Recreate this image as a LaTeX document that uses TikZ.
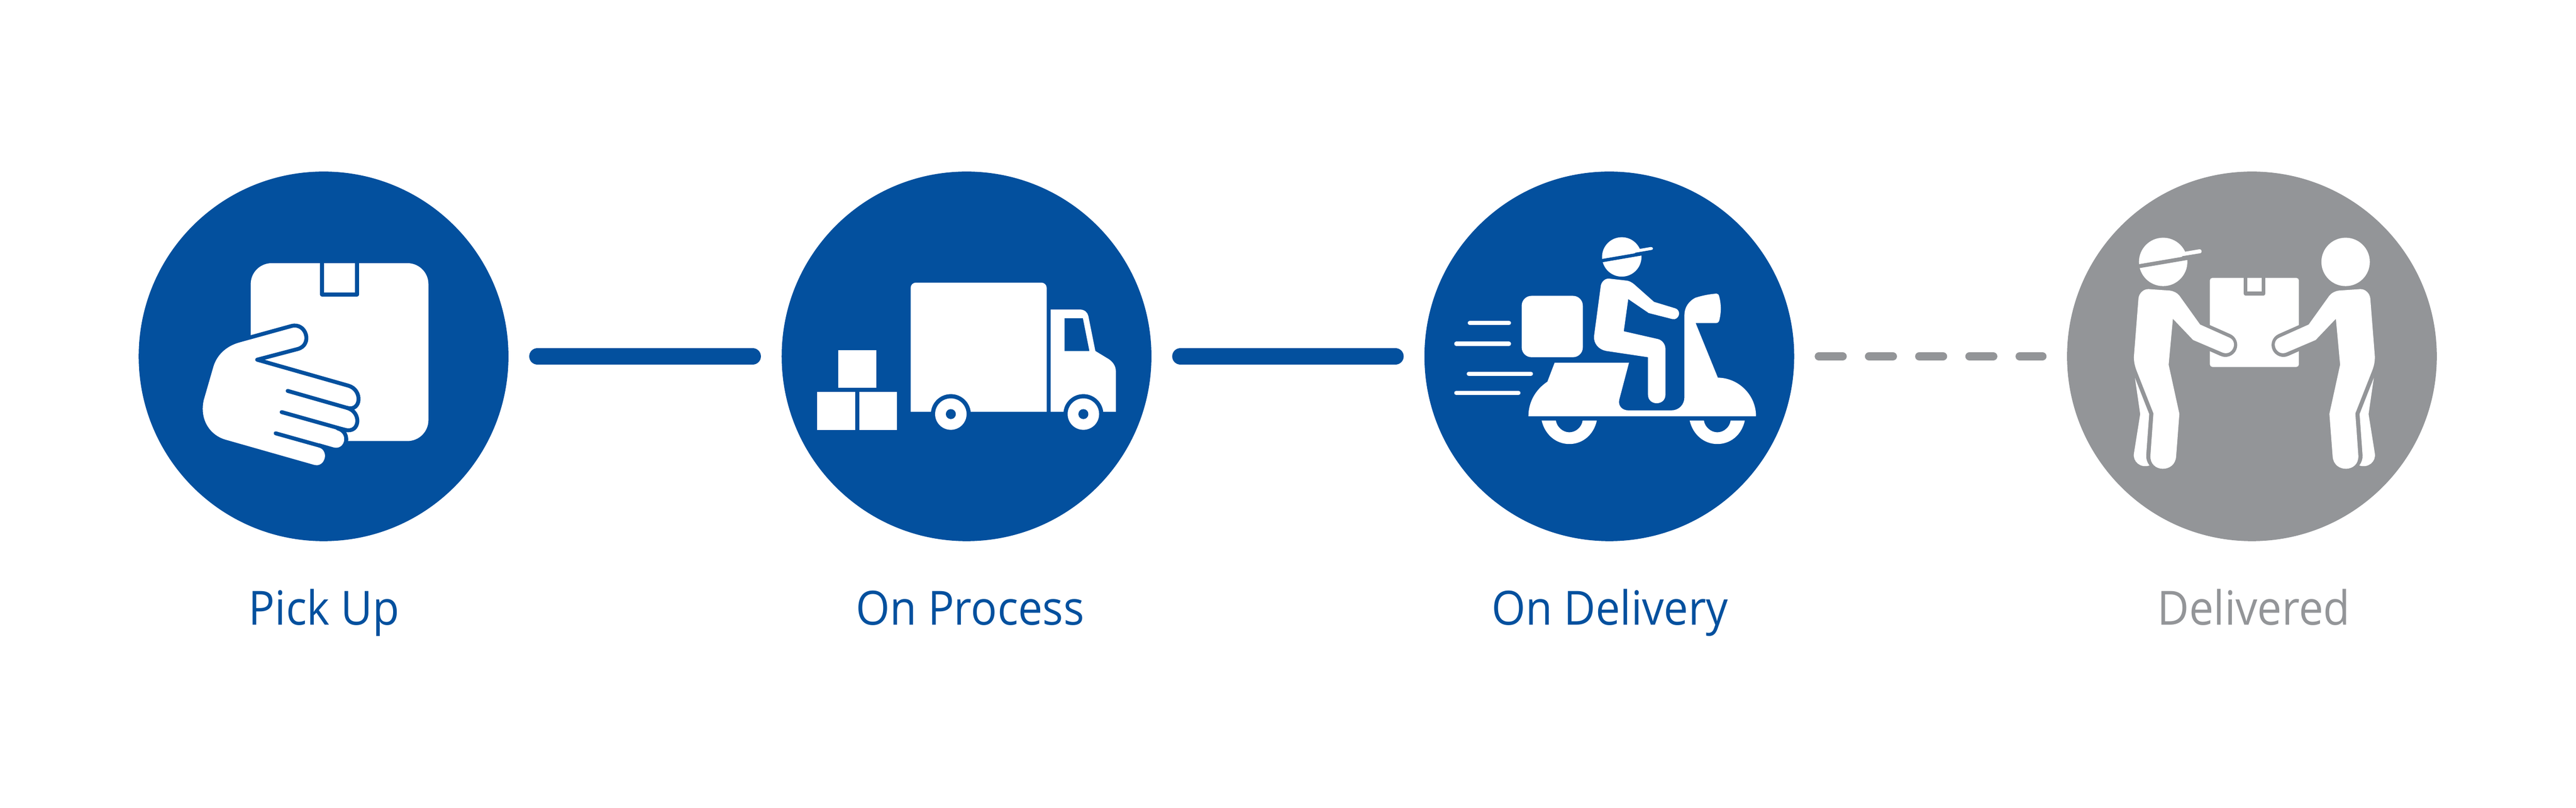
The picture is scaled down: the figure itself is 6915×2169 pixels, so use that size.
\documentclass[tikz,border=0pt]{standalone}
\usepackage{fontspec}
\setmainfont[FakeStretch=0.925]{Open Sans}
\definecolor{stepblue}{RGB}{3, 80, 158}
\definecolor{stepgrey}{RGB}{147, 149, 152}
\tikzset{
	stepdisc/.style={circle, inner sep=0pt, outer sep=0pt, minimum size=9.92cm},
	steplabel/.style={anchor=base, inner sep=0pt, font=\fontsize{36}{40}\selectfont},
	solidlink/.style={draw=stepblue, line width=0.446cm, line cap=round, shorten <=0.78cm, shorten >=0.78cm},
	dashlink/.style={draw=stepgrey, line width=0.22cm, line cap=round, dash pattern=on 0.64cm off 0.707cm, shorten <=0.66cm, shorten >=0.66cm},
	iconline/.style={line width=3pt, line join=round, line cap=round}
}
% one carrier of the last icon, the box side is to the right
\newcommand{\carrierbody}{
	\draw[stepgrey, line width=18.2pt, line cap=round] (547,690) -- (662,741);
	\fill[white] (355,517) -- (440,523) .. controls (456,525) and (470,533) .. (478,543) -- (561,659) -- (677,711) .. controls (717,728) and (690,788) .. (650,771) -- (533,721) -- (452,636) -- (435,820) -- (478,1017) -- (465,1187) .. controls (461,1256) and (358,1253) .. (362,1184) -- (374,1015) -- (307,845) .. controls (299,825) and (295,805) .. (296,785) -- (314,555) .. controls (316,533) and (335,516) .. (355,517) -- cycle;
	\fill[white] (300,873) -- (357,1018) -- (345,1183) .. controls (344,1198) and (349,1212) .. (358,1224) .. controls (322,1236) and (290,1208) .. (296,1175) -- (321,1018) -- cycle;
}
\begin{document}
\begin{tikzpicture}[x=0.01cm, y=-0.01cm]
	\useasboundingbox (0,0) rectangle (6915,2169);

	% discs
	\node[stepdisc, fill=stepblue] (pickup) at (868.6,957) {};
	\node[stepdisc, fill=stepblue] (process) at (2594.6,957) {};
	\node[stepdisc, fill=stepblue] (delivery) at (4320,957) {};
	\node[stepdisc, fill=stepgrey] (delivered) at (6045,957) {};

	% links
	\draw[solidlink] (pickup) -- (process);
	\draw[solidlink] (process) -- (delivery);
	\draw[dashlink] (delivery) -- (delivered);

	% labels
	\node[steplabel, text=stepblue] (pickuplabel) at (870,1678) {Pick Up};
	\node[steplabel, text=stepblue] (processlabel) at (2604,1678) {On Process};
	\node[steplabel, text=stepblue] (deliverylabel) at (4322,1678) {On Delivery};
	\node[steplabel, text=stepgrey] (deliveredlabel) at (6050,1678) {Delivered};

	% pick up: hand on a parcel
	\begin{scope}[shift={(340,430)}, scale=0.67]
		\fill[white, rounded corners=16pt] (497,413) rectangle (1209,1126);
		\draw[iconline, stepblue] (783,413) -- (783,539) -- (923,539) -- (923,413);
		\filldraw[iconline, draw=stepblue, fill=white] (450,723) -- (660,665) .. controls (720,649) and (746,740) .. (686,757) -- (523,800) -- (888,904) .. controls (946,920) and (941,1009) .. (883,993) .. controls (943,1010) and (935,1097) .. (875,1081) -- (845,1075) .. controls (903,1091) and (883,1175) .. (825,1159) -- (770,1143) .. controls (826,1158) and (804,1245) .. (748,1229) -- (393,1128) .. controls (325,1108) and (283,1040) .. (301,960) -- (340,825) .. controls (355,775) and (395,738) .. (450,723) -- cycle;
		\draw[iconline, stepblue] (645,925) -- (883,993);
		\draw[iconline, stepblue] (621,1010) -- (870,1080);
		\draw[iconline, stepblue] (597,1095) -- (825,1159);
	\end{scope}

	% on process: truck and boxes
	\begin{scope}[shift={(2070,430)}, scale=0.67]
		\fill[white] (269,761) rectangle (421,912);
		\fill[white] (185,929) rectangle (337,1081);
		\fill[white] (353,929) rectangle (505,1081);
		\fill[white] (559,1009) [rounded corners=4pt] -- (559,491) -- (1104,491) [sharp corners] -- (1104,1009) -- cycle;
		\fill[white] (1120,599) -- (1238,599) .. controls (1255,599) and (1268,610) .. (1271,625) -- (1299,765) -- (1345,793) .. controls (1368,805) and (1381,825) .. (1381,845) -- (1381,1009) -- (1120,1009) -- cycle;
		\fill[stepblue] (1176,634) -- (1249,634) -- (1275,765) -- (1176,765) -- cycle;
		\foreach \wheelx in {720,1251} {
			\fill[stepblue] (\wheelx,1018) circle[radius=80];
			\fill[white] (\wheelx,1018) circle[radius=63];
			\fill[stepblue] (\wheelx,1018) circle[radius=20];
		}
	\end{scope}

	% on delivery: rider on a scooter
	\begin{scope}[shift={(3800,430)}, scale=0.67]
		\fill[white] (826,388) circle[radius=79];
		\draw[stepblue, line width=2.5pt] (735,405) -- (950,368);
		\fill[white, rounded corners=1.5pt] (880,359) -- (950,347) -- (952,360) -- (890,371) -- cycle;
		\draw[stepblue, line width=2.5pt] (880,378) -- (950,366);
		\fill[white] (776,475) -- (846,483) .. controls (856,484) and (866,490) .. (875,497) -- (955,568) -- (1040,594) .. controls (1068,603) and (1055,644) .. (1028,637) -- (934,613) -- (852,557) -- (834,686) -- (970,717) .. controls (988,721) and (1001,738) .. (1001,757) -- (1001,940) .. controls (1001,986) and (931,986) .. (931,940) -- (931,790) -- (764,765) .. controls (734,760) and (712,735) .. (715,705) -- (742,503) .. controls (745,487) and (760,473) .. (776,475) -- cycle;
		\fill[white, rounded corners=7.5pt] (425,544) rectangle (670,790);
		\draw[white, line width=3.2pt, line cap=round] (217,653) -- (374,653);
		\draw[white, line width=3.2pt, line cap=round] (163,736) -- (374,736);
		\draw[white, line width=3.2pt, line cap=round] (213,856) -- (462,856);
		\draw[white, line width=3.2pt, line cap=round] (163,933) -- (412,933);
		\fill[white] (557,812) -- (855,812) -- (816,960) .. controls (810,985) and (828,1003) .. (852,1003) -- (1025,1003) .. controls (1055,1003) and (1077,980) .. (1077,950) -- (1077,620) .. controls (1077,590) and (1095,565) .. (1120,552) .. controls (1150,542) and (1180,537) .. (1205,535) .. controls (1210,535) and (1214,538) .. (1216,545) .. controls (1225,578) and (1225,612) .. (1216,645) .. controls (1214,650) and (1210,653) .. (1205,653) -- (1122,653) -- (1211,872) .. controls (1295,873) and (1364,942) .. (1364,1027) -- (452,1027) .. controls (452,970) and (480,920) .. (528,888) -- cycle;
		\foreach \wheelx in {0,593} {
			\fill[white] (505+\wheelx,1044) .. controls (518+\wheelx,1100) and (562+\wheelx,1138) .. (616+\wheelx,1138) .. controls (670+\wheelx,1138) and (714+\wheelx,1100) .. (726+\wheelx,1044) -- (669+\wheelx,1044) .. controls (666+\wheelx,1070) and (642+\wheelx,1091) .. (616+\wheelx,1091) .. controls (590+\wheelx,1091) and (566+\wheelx,1070) .. (562+\wheelx,1044) -- cycle;
		}
	\end{scope}

	% delivered: parcel between two carriers
	\begin{scope}[shift={(5530,430)}, scale=0.67]
		\fill[white, rounded corners=2pt] (600,472) rectangle (957,829);
		\draw[iconline, stepgrey] (743,472) -- (743,535) -- (815,535) -- (815,472);
		\carrierbody
		\begin{scope}[shift={(1557,0)}, xscale=-1]
			\carrierbody
		\end{scope}
		\fill[white] (413,408) circle[radius=97];
		\draw[stepgrey, line width=3pt] (300,428) -- (570,382);
		\fill[white, rounded corners=1.5pt] (490,369) -- (566,356) -- (568,373) -- (500,385) -- cycle;
		\draw[stepgrey, line width=3pt] (490,393) -- (570,380);
		\fill[white] (1144,408) circle[radius=97];
	\end{scope}
\end{tikzpicture}
\end{document}
